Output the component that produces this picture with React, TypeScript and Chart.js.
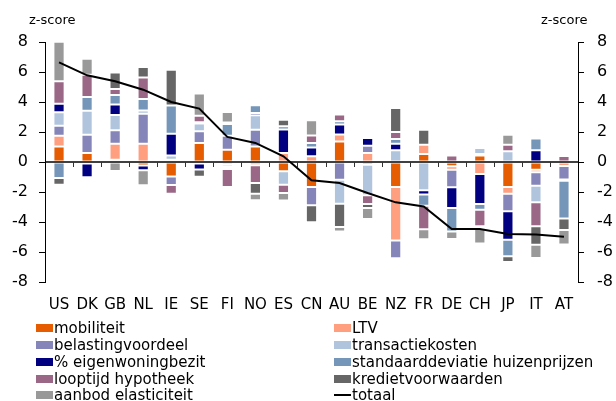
import React, { useEffect, useRef } from "react";
import { Chart, registerables } from "chart.js";

Chart.register(...registerables);

const countries = ["US", "DK", "GB", "NL", "IE", "SE", "FI", "NO", "ES", "CN", "AU", "BE", "NZ", "FR", "DE", "CH", "JP", "IT", "AT"];

const mobiliteit = [1.04, 0.6, 0.15, -0.24, -0.96, 1.27, 0.82, 1.04, -0.62, -1.67, 1.36, -0.18, -1.67, 0.53, -0.29, 0.44, -1.67, -0.51, 0];
const ltv = [0.71, -0.1, 1.07, 1.22, 0.15, -0.1, -0.18, -0.22, 0.6, 0.38, 0.47, 0.6, -3.56, 0.62, -0.22, -0.8, -0.44, -0.18, -0.27];
const belastingvoordeel = [0.67, 1.22, 0.89, 2.0, -0.58, 0.78, 0.93, 1.11, 0, -1.22, -1.18, 0.49, -1.18, 0, -1.18, 0.09, -1.18, -0.89, -0.89];
const transactiekosten = [0.89, 1.6, 1.02, 0.22, 0.29, 0.51, -0.15, 0.96, -0.89, 0, -1.6, -2.04, 0.78, -1.89, 0, 0.4, 0.71, -1.11, 0];
const eigenwoningbezit = [0.58, -0.91, 0.71, -0.31, 1.44, -0.4, -0.13, 0.16, 1.56, 0.58, 0.67, 0.51, 0.44, -0.27, -1.38, -2.0, -1.89, 0.78, -0.09];
const standaarddeviatie = [-1.07, 0.91, 0.62, 0.76, 1.89, 0.09, 0.78, 0.51, 0.22, 0.31, 0.22, 0, 0.31, -0.76, -1.56, -0.38, -1.11, 0.78, -2.51];
const looptijd = [1.49, 1.49, 0.4, 1.44, -0.58, 0.44, -1.2, -1.18, -0.56, 0.49, 0.44, -0.58, 0.47, -1.56, 0.44, -1.11, 0.44, -1.6, 0.4];
const kredietvoorwaarden = [-0.44, 0, 1.11, 0.69, 2.38, -0.49, 0.11, -0.71, 0.44, -1.13, -1.56, -0.27, 1.6, 1.0, 0.11, -0.11, -0.38, -1.22, -0.78];
const aanbodElasticiteit = [2.64, 1.07, -0.6, -1.0, -0.11, 1.47, 0.69, -0.44, -0.49, 1.02, -0.29, -0.73, 0.07, -0.67, -0.51, -1.04, 0.67, -0.89, -0.96];
const totaal = [6.64, 5.78, 5.38, 4.82, 4.0, 3.56, 1.67, 1.27, 0.38, -1.22, -1.4, -2.07, -2.69, -2.96, -4.47, -4.47, -4.8, -4.84, -4.98];

const yTicks = [-8, -6, -4, -2, 0, 2, 4, 6, 8];
const axisTitle = "z-score";

const barSeries = [
  { label: "mobiliteit", data: mobiliteit, color: "#E65C00" },
  { label: "LTV", data: ltv, color: "#FF9F80" },
  { label: "belastingvoordeel", data: belastingvoordeel, color: "#8585B9" },
  { label: "transactiekosten", data: transactiekosten, color: "#B0C4DE" },
  { label: "% eigenwoningbezit", data: eigenwoningbezit, color: "#000080" },
  { label: "standaarddeviatie huizenprijzen", data: standaarddeviatie, color: "#7596B8" },
  { label: "looptijd hypotheek", data: looptijd, color: "#9A6886" },
  { label: "kredietvoorwaarden", data: kredietvoorwaarden, color: "#666666" },
  { label: "aanbod elasticiteit", data: aanbodElasticiteit, color: "#999999" },
];
const lineSeries = { label: "totaal", data: totaal, color: "#000000" };

const FONT = "DejaVu Sans";
const W = 616;
const H = 401;
const PLOT_LEFT = 45;
const PLOT_RIGHT = 578;
const PLOT_TOP = 42;
const PLOT_BOTTOM = 282;

const zeroLinePlugin = {
  id: "zeroLine",
  beforeDatasetDraw(chart: any, args: any) {
    if (args.index !== barSeries.length) return;
    const { ctx, chartArea, scales } = chart;
    const y0 = scales.y.getPixelForValue(0);
    ctx.save();
    ctx.strokeStyle = "#000";
    ctx.lineWidth = 1.5;
    ctx.beginPath();
    ctx.moveTo(chartArea.left, y0);
    ctx.lineTo(chartArea.right, y0);
    ctx.stroke();
    ctx.lineWidth = 1;
    ctx.strokeStyle = "#333";
    for (let i = 1; i < countries.length; i++) {
      const x = Math.round((scales.x.getPixelForValue(i - 1) + scales.x.getPixelForValue(i)) / 2) + 0.5;
      ctx.beginPath();
      ctx.moveTo(x, y0);
      ctx.lineTo(x, y0 + 5);
      ctx.stroke();
    }
    ctx.restore();
  },
};

export default function App() {
  const ref = useRef<HTMLCanvasElement | null>(null);

  useEffect(() => {
    if (!ref.current) return;
    const yAxisCommon = (pos: "left" | "right", pad: number, width: number) => ({
      position: pos,
      min: -8,
      max: 8,
      afterBuildTicks: (s: any) => {
        s.ticks = yTicks.map((v) => ({ value: v }));
      },
      afterFit: (s: any) => {
        s.width = width;
      },
      ticks: { color: "#000", padding: pad, font: { family: FONT, size: 16 } },
      grid: { drawOnChartArea: false, drawTicks: true, tickLength: 6, color: "#000", tickColor: "#000" },
      border: { display: true, color: "#000", width: 1 },
    });
    const chart = new Chart(ref.current, {
      type: "bar",
      data: {
        labels: countries,
        datasets: [
          ...barSeries.map((s) => ({
            type: "bar" as const,
            label: s.label,
            data: s.data,
            backgroundColor: s.color,
            borderColor: "rgba(255,255,255,0.45)",
            borderWidth: 1,
            borderSkipped: false,
            stack: "a",
            yAxisID: "y",
            barPercentage: 0.4,
            categoryPercentage: 1,
          })),
          {
            type: "line" as const,
            label: lineSeries.label,
            data: lineSeries.data,
            borderColor: lineSeries.color,
            borderWidth: 2,
            pointRadius: 0,
            tension: 0,
            fill: false,
            yAxisID: "y2",
            order: -1,
          },
        ],
      } as any,
      options: {
        responsive: false,
        animation: false,
        devicePixelRatio: 1,
        layout: { padding: { top: PLOT_TOP, left: 0, right: 0, bottom: 0 } },
        plugins: { legend: { display: false }, tooltip: { enabled: false } },
        scales: {
          x: {
            stacked: true,
            offset: true,
            grid: { display: false, drawTicks: false },
            border: { display: false },
            ticks: { autoSkip: false, maxRotation: 0, padding: 14, color: "#000", font: { family: FONT, size: 15 } },
            afterFit: (s: any) => {
              s.height = H - PLOT_BOTTOM;
            },
          },
          y: { ...yAxisCommon("left", 11, PLOT_LEFT), stacked: true },
          y2: { ...yAxisCommon("right", 13, W - PLOT_RIGHT), stacked: false },
        },
      } as any,
      plugins: [zeroLinePlugin],
    });
    return () => chart.destroy();
  }, []);

  const legendItems = [...barSeries.map((s) => ({ label: s.label, color: s.color, line: false })), { label: lineSeries.label, color: lineSeries.color, line: true }];
  const rowY = [328, 345, 362, 379, 395];

  return (
    <div style={{ position: "absolute", left: 0, top: 0, width: W, height: H, background: "#fff", fontFamily: FONT, color: "#000" }}>
      <canvas ref={ref} width={W} height={H} style={{ position: "absolute", left: 0, top: 0 }} />
      <div style={{ position: "absolute", left: 29, top: 10, fontSize: 13, lineHeight: "20px" }}>{axisTitle}</div>
      <div style={{ position: "absolute", left: 541, top: 10, fontSize: 13, lineHeight: "20px" }}>{axisTitle}</div>
      {legendItems.map((it, i) => {
        const col = i % 2;
        const row = Math.floor(i / 2);
        const left = col === 0 ? 36 : 334;
        const cy = rowY[row];
        return (
          <div key={it.label} style={{ position: "absolute", left, top: cy - 10, height: 20, display: "flex", alignItems: "center", whiteSpace: "nowrap" }}>
            <span style={{ display: "inline-block", width: 17, height: it.line ? 2 : 8, background: it.color, marginRight: 1 }} />
            <span style={{ fontSize: 15, lineHeight: "20px" }}>{it.label}</span>
          </div>
        );
      })}
    </div>
  );
}
